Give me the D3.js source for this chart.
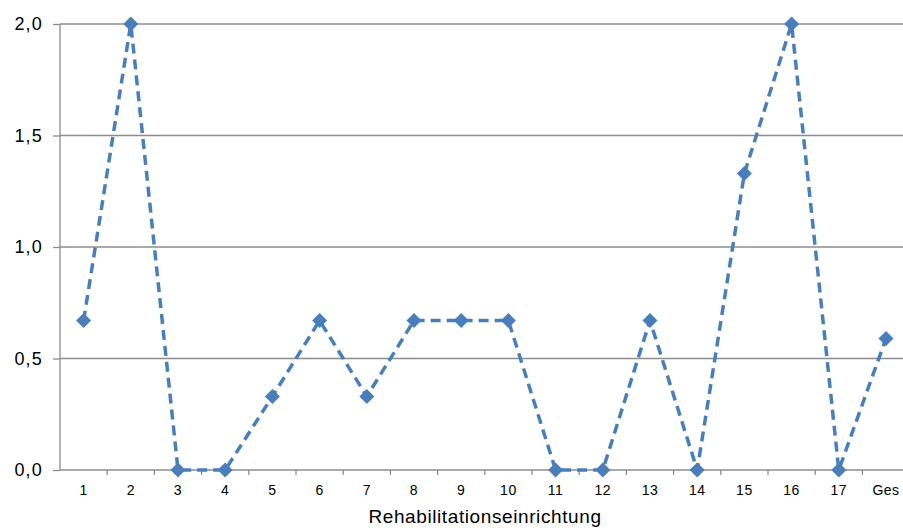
<!DOCTYPE html>
<html>
<head>
<meta charset="utf-8">
<script src="https://cdn.jsdelivr.net/npm/d3@7"></script>
<style>
  body { margin: 0; background: #fff; }
  svg { display: block; font-family: Arial, "Liberation Sans", sans-serif; }
</style>
</head>
<body>
<script>
var categories = ["1", "2", "3", "4", "5", "6", "7", "8", "9", "10", "11", "12", "13", "14", "15", "16", "17", "Ges"];
var values = [0.67, 2.0, 0, 0, 0.33, 0.67, 0.33, 0.67, 0.67, 0.67, 0, 0, 0.67, 0, 1.33, 2.0, 0, 0.59];
var yTicks = [0, 0.5, 1.0, 1.5, 2.0];

var width = 903,
    height = 528;

var plotLeft = 60, plotRight = 909.6, plotTop = 24, plotBottom = 470;

var svg = d3.select("body")
    .append("svg")
    .attr("width", width)
    .attr("height", height);

var x = d3.scaleBand()
    .domain(categories)
    .range([plotLeft, plotRight]);

var y = d3.scaleLinear()
    .domain([0, 2])
    .range([plotBottom, plotTop]);

var fmt = function(d) { return d3.format(".1f")(d).replace(".", ","); };

// gridlines
svg.append("g")
    .selectAll("line")
    .data(yTicks.filter(function(d) { return d > 0; }))
    .enter()
    .append("line")
    .attr("x1", plotLeft)
    .attr("x2", plotRight)
    .attr("y1", function(d) { return y(d); })
    .attr("y2", function(d) { return y(d); })
    .attr("stroke", "#8c8c8c")
    .attr("stroke-width", 1.3);

// y axis
var yAxis = svg.append("g")
    .attr("transform", "translate(" + plotLeft + ",0)")
    .call(d3.axisLeft(y).tickValues(yTicks).tickFormat(fmt).tickSize(7).tickPadding(10));
yAxis.selectAll("path, line").attr("stroke", "#8c8c8c").attr("stroke-width", 1.3);
yAxis.select(".domain").attr("d", "M0," + plotTop + "V" + plotBottom);
yAxis.selectAll("text")
    .attr("font-size", 18)
    .attr("letter-spacing", 1.2)
    .attr("fill", "#000")
    .attr("font-family", "Arial, 'Liberation Sans', sans-serif");

// x axis
var xAxis = svg.append("g")
    .attr("transform", "translate(0," + plotBottom + ")");
xAxis.append("line")
    .attr("x1", plotLeft).attr("x2", plotRight)
    .attr("stroke", "#8c8c8c").attr("stroke-width", 1.3);
xAxis.selectAll(".tk")
    .data(categories)
    .enter()
    .append("line")
    .attr("class", "tk")
    .attr("x1", function(d) { return x(d) + x.bandwidth(); })
    .attr("x2", function(d) { return x(d) + x.bandwidth(); })
    .attr("y1", 0).attr("y2", 5)
    .attr("stroke", "#8c8c8c").attr("stroke-width", 1.3);
xAxis.selectAll("text")
    .data(categories)
    .enter()
    .append("text")
    .attr("x", function(d) { return x(d) + x.bandwidth() / 2; })
    .attr("y", 25)
    .attr("text-anchor", "middle")
    .attr("font-size", 14)
    .attr("letter-spacing", 0.5)
    .attr("fill", "#000")
    .text(function(d) { return d; });

svg.append("text")
    .attr("x", 485)
    .attr("y", 523)
    .attr("text-anchor", "middle")
    .attr("font-size", 19)
    .attr("letter-spacing", 0.6)
    .attr("fill", "#000")
    .text("Rehabilitationseinrichtung");

// line
var line = d3.line()
    .x(function(d, i) { return x(categories[i]) + x.bandwidth() / 2; })
    .y(function(d) { return y(d); });

svg.append("path")
    .datum(values)
    .attr("d", line)
    .attr("fill", "none")
    .attr("stroke", "#4a7ebb")
    .attr("stroke-width", 3.5)
    .attr("stroke-dasharray", "10,6");

svg.append("g")
    .selectAll("path")
    .data(values)
    .enter()
    .append("path")
    .attr("transform", function(d, i) {
        return "translate(" + (x(categories[i]) + x.bandwidth() / 2) + "," + y(d) + ")";
    })
    .attr("d", "M0,-7.5L7.5,0L0,7.5L-7.5,0Z")
    .attr("fill", "#4a7ebb");
</script>
</body>
</html>
